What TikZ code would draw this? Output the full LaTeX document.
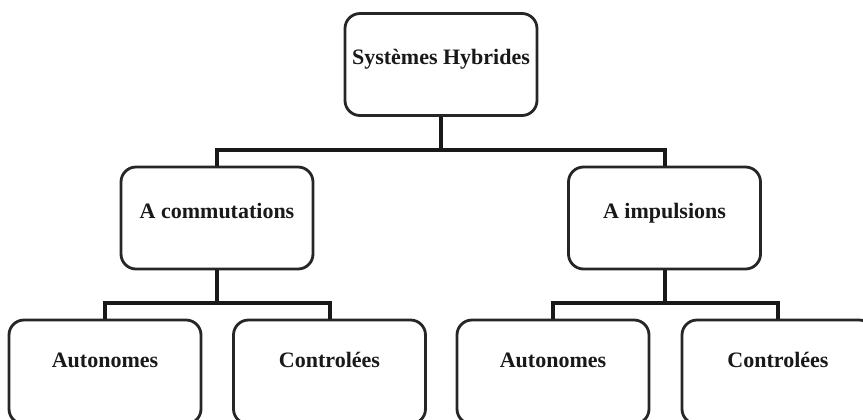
\documentclass[tikz,border=0pt]{standalone}
\usepackage{fontspec}
\setmainfont{Liberation Serif}
\begin{document}
\begin{tikzpicture}[x=0.5pt,y=-0.5pt,
  box/.style={draw=black!85, line width=1.4pt, rounded corners=7.5pt, fill=white,
    minimum width=96pt, minimum height=51pt, inner sep=0pt,
    font=\fontsize{11pt}{13pt}\selectfont\bfseries, text=black!90,
    text height=0.5em, text depth=0.5em},
  lowbox/.style={box, minimum height=52pt, text height=0.4em, text depth=0.9em},
  conn/.style={draw=black!90, line width=2pt}]
\useasboundingbox (0,0) rectangle (863,419);
\node[box] (top) at (441,64.5) {Systèmes Hybrides};
\node[box] (ml) at (217,218) {A commutations};
\node[box] (mr) at (664.5,218) {A impulsions};
\node[lowbox] (b1) at (105,372) {Autonomes};
\node[lowbox] (b2) at (329.5,372) {Controlées};
\node[lowbox] (b3) at (553,372) {Autonomes};
\node[lowbox] (b4) at (778,372) {Controlées};
\coordinate (j0) at (441,150);
\coordinate (j1) at (217,303);
\coordinate (j2) at (664.5,303);
\draw[conn] (top.south) -- (j0);
\draw[conn] (ml.north) |- (j0) -| (mr.north);
\draw[conn] (ml.south) -- (j1);
\draw[conn] (b1.north) |- (j1) -| (b2.north);
\draw[conn] (mr.south) -- (j2);
\draw[conn] (b3.north) |- (j2) -| (b4.north);
\end{tikzpicture}
\end{document}
